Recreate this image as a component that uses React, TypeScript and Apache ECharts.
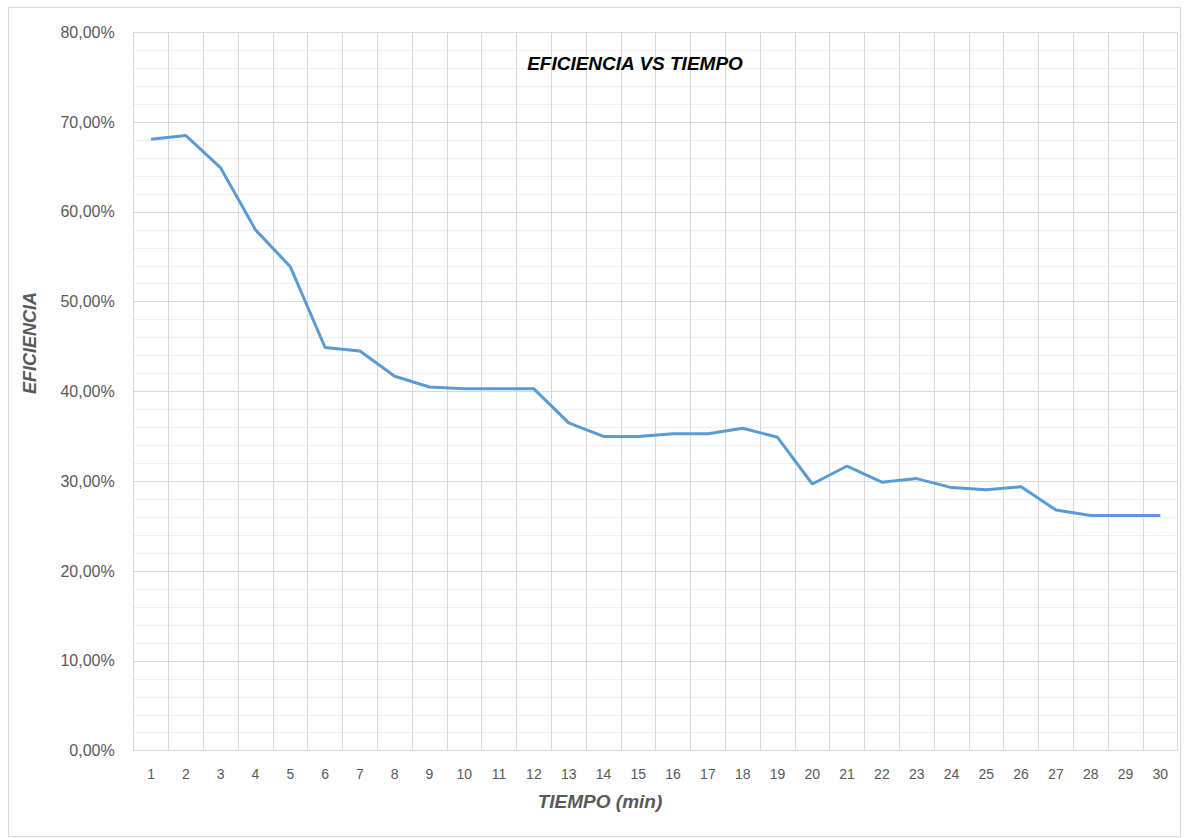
import React, { useEffect, useRef } from "react";
import * as echarts from "echarts";

const categories: string[] = Array.from({ length: 30 }, (_, i) => String(i + 1));
const eficiencia: number[] = [
  68.1, 68.5, 64.9, 58.0, 53.9, 44.9, 44.5, 41.7, 40.5, 40.3,
  40.3, 40.3, 36.5, 35.0, 35.0, 35.3, 35.3, 35.9, 34.9, 29.7,
  31.7, 29.9, 30.3, 29.3, 29.05, 29.4, 26.8, 26.2, 26.2, 26.2,
];
const titleText = "EFICIENCIA VS TIEMPO";
const yName = "EFICIENCIA";
const xName = "TIEMPO (min)";

const FONT = "'Liberation Sans', Arial, sans-serif";

export default function App() {
  const ref = useRef<HTMLDivElement>(null);
  useEffect(() => {
    if (!ref.current) return;
    const chart = echarts.init(ref.current, null, { renderer: "svg" });
    chart.setOption({
      animation: false,
      backgroundColor: "#ffffff",
      textStyle: { fontFamily: FONT },
      title: {
        text: titleText,
        left: 630,
        top: 49,
        textAlign: "center",
        textStyle: { fontFamily: FONT, fontSize: 19, fontWeight: "bold", fontStyle: "italic", color: "#000000" },
      },
      grid: { left: 133.7, right: 6.3, top: 32.3, bottom: 87.3, containLabel: false },
      xAxis: {
        type: "category",
        data: categories,
        boundaryGap: true,
        axisLine: { show: true, lineStyle: { color: "#d9d9d9", width: 1 } },
        axisTick: { show: false },
        axisLabel: { color: "#595959", fontSize: 14, margin: 16, interval: 0, fontFamily: FONT },
        splitLine: { show: true, interval: 0, lineStyle: { color: "#d9d9d9", width: 1 } },
      },
      yAxis: {
        type: "value",
        min: 0,
        max: 80,
        interval: 10,
        axisLine: { show: false },
        axisTick: { show: false },
        axisLabel: {
          color: "#595959",
          fontSize: 16,
          margin: 19,
          fontFamily: FONT,
          formatter: (v: number) => v.toFixed(2).replace(".", ",") + "%",
        },
        splitLine: { show: true, lineStyle: { color: "#d9d9d9", width: 1 } },
        minorTick: { show: false, splitNumber: 5 },
        minorSplitLine: { show: true, lineStyle: { color: "#efefef", width: 1 } },
      },
      series: [
        {
          type: "line",
          data: eficiencia,
          symbol: "none",
          lineStyle: { color: "#5b9bd5", width: 3 },
          itemStyle: { color: "#5b9bd5" },
        },
      ],
      graphic: [
        {
          type: "rect",
          shape: { x: 8.5, y: 7.5, width: 1172, height: 829 },
          style: { fill: "none", stroke: "#d9d9d9", lineWidth: 1 },
          silent: true,
        },
        {
          type: "text",
          x: 30,
          y: 343,
          rotation: Math.PI / 2,
          style: {
            text: yName,
            fontFamily: FONT,
            fontSize: 18,
            fontWeight: "bold",
            fontStyle: "italic",
            fill: "#595959",
            textAlign: "center",
            textVerticalAlign: "middle",
          },
        },
        {
          type: "text",
          x: 600,
          y: 801,
          style: {
            text: xName,
            fontFamily: FONT,
            fontSize: 19,
            fontWeight: "bold",
            fontStyle: "italic",
            fill: "#595959",
            textAlign: "center",
            textVerticalAlign: "middle",
          },
        },
      ],
    });
    return () => chart.dispose();
  }, []);
  return (
    <div
      ref={ref}
      style={{ position: "absolute", left: 0, top: 0, width: 1184, height: 838 }}
    />
  );
}
